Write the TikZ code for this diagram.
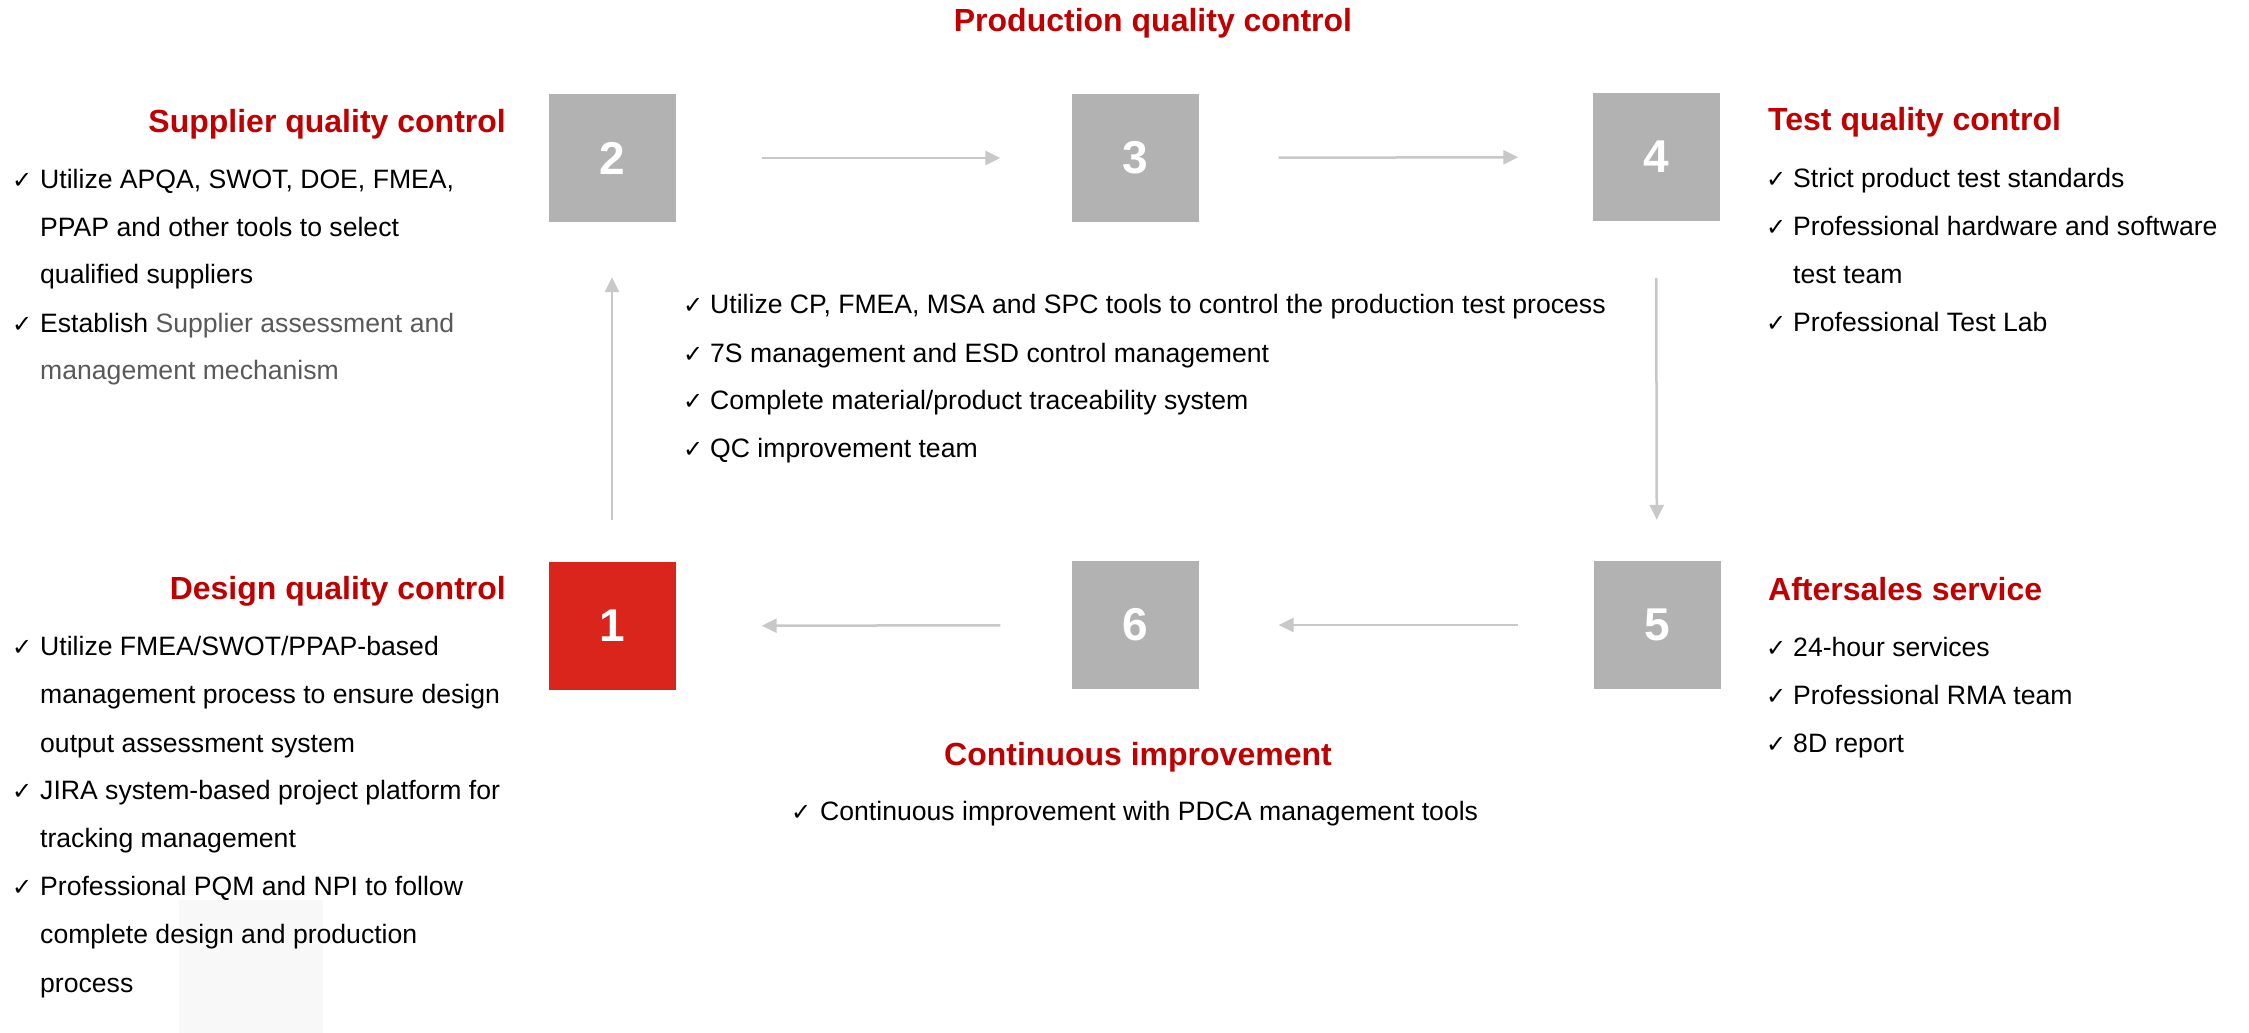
\documentclass[tikz,border=0pt]{standalone}
\usepackage{fontspec}
\setmainfont{Liberation Sans}
\newfontfamily\symfont{DejaVu Sans}
\usetikzlibrary{arrows.meta}
\definecolor{qred}{HTML}{C00000}
\definecolor{boxgray}{HTML}{B2B2B2}
\definecolor{boxred}{HTML}{DA251D}
\definecolor{arrgray}{HTML}{C8C8C8}
\definecolor{txtgray}{HTML}{595959}
\definecolor{faintgray}{HTML}{F8F8F8}
\tikzset{
  numbox/.style={fill=boxgray, minimum width=127pt, minimum height=128pt, inner sep=0pt, text=white, font=\fontsize{46}{46}\selectfont\bfseries},
  ttl/.style={inner sep=0pt, text=qred, font=\fontsize{32}{32}\selectfont\bfseries},
  body/.style={inner sep=0pt, anchor=base west, font=\fontsize{26.6}{26.6}\selectfont},
  chk/.style={inner sep=0pt, anchor=base west, font=\symfont\fontsize{24}{24}\selectfont},
  flow/.style={draw=arrgray, line width=2.5pt, -{Triangle[length=15pt,width=14pt]}}
}
\begin{document}
\begin{tikzpicture}[x=1pt,y=-1pt]
\useasboundingbox (0,0) rectangle (2249,1033);
\fill[faintgray] (179,900) rectangle (323,1033);

% boxes
\node[numbox] (b2) at (612,158) {2};
\node[numbox] (b3) at (1135,158) {3};
\node[numbox] (b4) at (1656,157) {4};
\node[numbox, fill=boxred] (b1) at (612,626) {1};
\node[numbox] (b6) at (1135,625) {6};
\node[numbox] (b5) at (1657,625) {5};

% connectors
\draw[flow, shorten <=86pt, shorten >=71pt] (b2) -- (b3);
\draw[flow, shorten <=80pt, shorten >=74pt] (b3) -- (b4);
\draw[flow, shorten <=57pt, shorten >=41pt] (b4) -- (b5);
\draw[flow, shorten <=75pt, shorten >=80pt] (b5) -- (b6);
\draw[flow, shorten <=71pt, shorten >=86pt] (b6) -- (b1);
\draw[flow, shorten <=42pt, shorten >=55pt] (b1) -- (b2);

% titles
\node[ttl, anchor=base] (tprod) at (1153,32) {Production quality control};
\node[ttl, anchor=base east] (tsup) at (506,132) {Supplier quality control};
\node[ttl, anchor=base east] (tdes) at (506,599) {Design quality control};
\node[ttl, anchor=base west] (ttest) at (1768,130) {Test quality control};
\node[ttl, anchor=base west] (taft) at (1768,600) {Aftersales service};
\node[ttl, anchor=base] (tcont) at (1138,765) {Continuous improvement};

% supplier items
\node[chk] (cs1) at (12,188) {✓};
\node[body] (s1) at (40,188) {Utilize APQA, SWOT, DOE, FMEA,};
\node[body] (s2) at (40,236) {PPAP and other tools to select};
\node[body] (s3) at (40,283) {qualified suppliers};
\node[chk] (cs2) at (12,332) {✓};
\node[body] (s4) at (40,332) {Establish \textcolor{txtgray}{Supplier assessment and}};
\node[body, text=txtgray] (s5) at (40,379) {management mechanism};

% design items
\node[chk] (cd1) at (12,655) {✓};
\node[body] (d1) at (40,655) {Utilize FMEA/SWOT/PPAP-based};
\node[body] (d2) at (40,703) {management process to ensure design};
\node[body] (d3) at (40,752) {output assessment system};
\node[chk] (cd2) at (12,799) {✓};
\node[body] (d4) at (40,799) {JIRA system-based project platform for};
\node[body] (d5) at (40,847) {tracking management};
\node[chk] (cd3) at (12,895) {✓};
\node[body] (d6) at (40,895) {Professional PQM and NPI to follow};
\node[body] (d7) at (40,943) {complete design and production};
\node[body] (d8) at (40,992) {process};

% production items
\node[chk] (cp1) at (683,313) {✓};
\node[body] (p1) at (710,313) {Utilize CP, FMEA, MSA and SPC tools to control the production test process};
\node[chk] (cp2) at (683,362) {✓};
\node[body] (p2) at (710,362) {7S management and ESD control management};
\node[chk] (cp3) at (683,409) {✓};
\node[body] (p3) at (710,409) {Complete material/product traceability system};
\node[chk] (cp4) at (683,457) {✓};
\node[body] (p4) at (710,457) {QC improvement team};

% test items
\node[chk] (ct1) at (1766,187) {✓};
\node[body] (t1) at (1793,187) {Strict product test standards};
\node[chk] (ct2) at (1766,235) {✓};
\node[body] (t2) at (1793,235) {Professional hardware and software};
\node[body] (t3) at (1793,283) {test team};
\node[chk] (ct3) at (1766,331) {✓};
\node[body] (t4) at (1793,331) {Professional Test Lab};

% aftersales items
\node[chk] (ca1) at (1766,656) {✓};
\node[body] (a1) at (1793,656) {24-hour services};
\node[chk] (ca2) at (1766,704) {✓};
\node[body] (a2) at (1793,704) {Professional RMA team};
\node[chk] (ca3) at (1766,752) {✓};
\node[body] (a3) at (1793,752) {8D report};

% continuous item
\node[chk] (cc1) at (791,820) {✓};
\node[body] (c1) at (820,820) {Continuous improvement with PDCA management tools};
\end{tikzpicture}
\end{document}
